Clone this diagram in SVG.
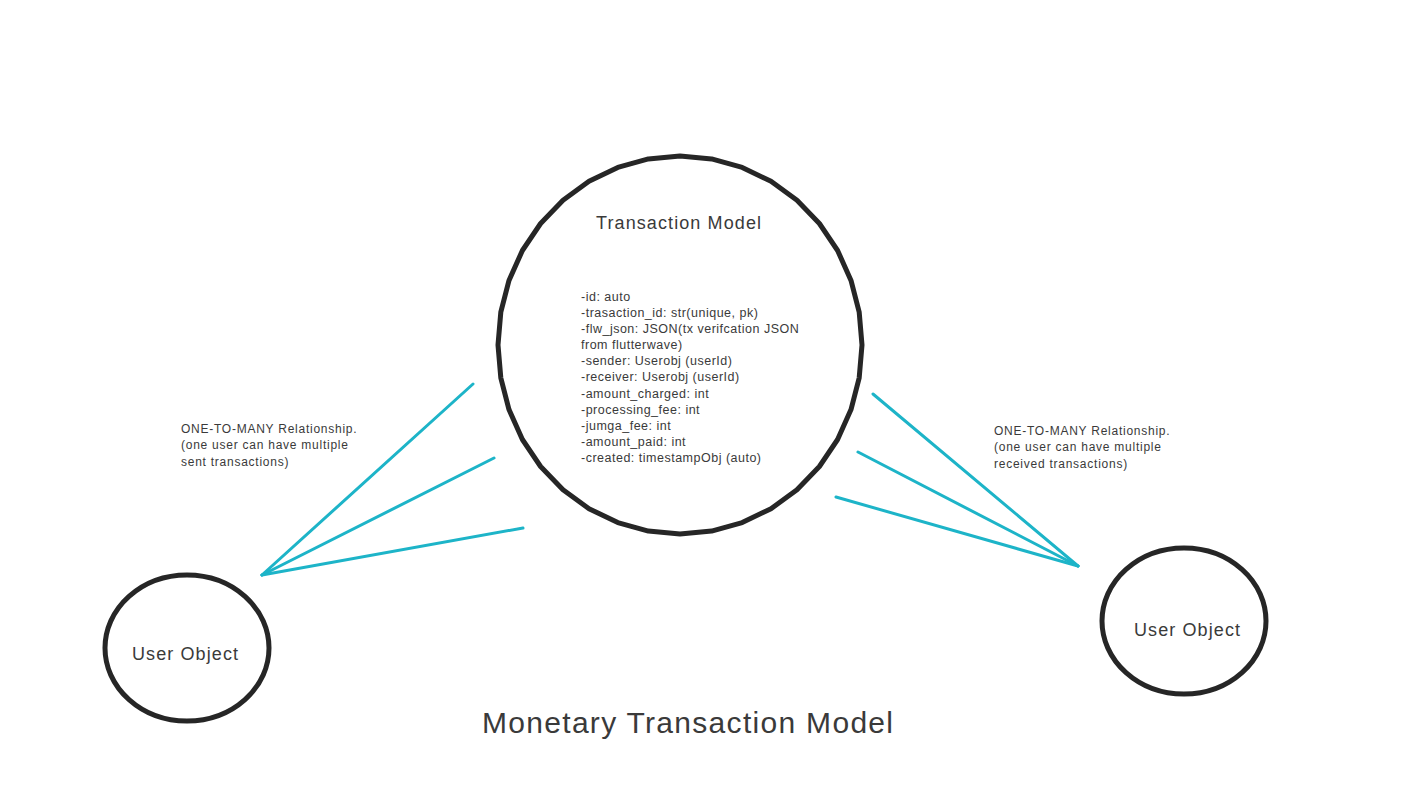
<svg xmlns="http://www.w3.org/2000/svg" width="1422" height="800" viewBox="0 0 1422 800">
<style>
.shape{fill:#ffffff;stroke:#262626;stroke-width:5;stroke-linejoin:round}
.conn{stroke:#1db4c8;stroke-width:3;stroke-linecap:round;fill:none}
text{font-family:"Liberation Sans",Arial,sans-serif;fill:#3a3a3a}
.lbl{font-size:18px;letter-spacing:1.1px}
.attr{font-size:12.5px;letter-spacing:0.5px}
.note{font-size:12px;letter-spacing:0.75px}
.title{font-size:30px;letter-spacing:1.3px}
</style>
<rect width="1422" height="800" fill="#ffffff"/>
<g id="transaction-model">
<polygon class="shape" points="862,345 859.2,377.8 851,409.6 837.6,439.5 819.4,466.5 797,489.8 771,508.7 742.2,522.6 711.6,531.1 680,534 648.4,531.1 617.8,522.6 589,508.7 563,489.8 540.6,466.5 522.4,439.5 509,409.6 500.8,377.8 498,345 500.8,312.2 509,280.4 522.4,250.5 540.6,223.5 563,200.2 589,181.3 617.8,167.4 648.4,158.9 680,156 711.6,158.9 742.2,167.4 771,181.3 797,200.2 819.4,223.5 837.6,250.5 851,280.4 859.2,312.2"/>
<text class="lbl" x="596" y="229">Transaction Model</text>
<text class="attr" x="581" y="301">-id: auto</text>
<text class="attr" x="581" y="317">-trasaction_id: str(unique, pk)</text>
<text class="attr" x="581" y="333">-flw_json: JSON(tx verifcation JSON</text>
<text class="attr" x="581" y="349">from flutterwave)</text>
<text class="attr" x="581" y="365">-sender: Userobj (userId)</text>
<text class="attr" x="581" y="381">-receiver: Userobj (userId)</text>
<text class="attr" x="581" y="398">-amount_charged: int</text>
<text class="attr" x="581" y="414">-processing_fee: int</text>
<text class="attr" x="581" y="430">-jumga_fee: int</text>
<text class="attr" x="581" y="446">-amount_paid: int</text>
<text class="attr" x="581" y="462">-created: timestampObj (auto)</text>
</g>
<g id="user-object-sender">
<ellipse class="shape" cx="187" cy="648" rx="82" ry="73"/>
<text class="lbl" x="132" y="660">User Object</text>
</g>
<g id="user-object-receiver">
<ellipse class="shape" cx="1184" cy="621" rx="82" ry="73"/>
<text class="lbl" x="1134" y="636">User Object</text>
</g>
<g id="connectors">
<line class="conn" x1="262" y1="575" x2="473" y2="384"/>
<line class="conn" x1="262" y1="575" x2="494" y2="458"/>
<line class="conn" x1="262" y1="575" x2="523" y2="528"/>
<line class="conn" x1="1078" y1="566" x2="873" y2="394"/>
<line class="conn" x1="1078" y1="566" x2="858" y2="452"/>
<line class="conn" x1="1078" y1="566" x2="836" y2="497"/>
</g>
<g id="notes">
<text class="note" x="181" y="433">ONE-TO-MANY Relationship.</text>
<text class="note" x="181" y="449">(one user can have multiple</text>
<text class="note" x="181" y="466">sent transactions)</text>
<text class="note" x="994" y="435">ONE-TO-MANY Relationship.</text>
<text class="note" x="994" y="451">(one user can have multiple</text>
<text class="note" x="994" y="468">received transactions)</text>
</g>
<text class="title" x="482" y="733">Monetary Transaction Model</text>
</svg>
